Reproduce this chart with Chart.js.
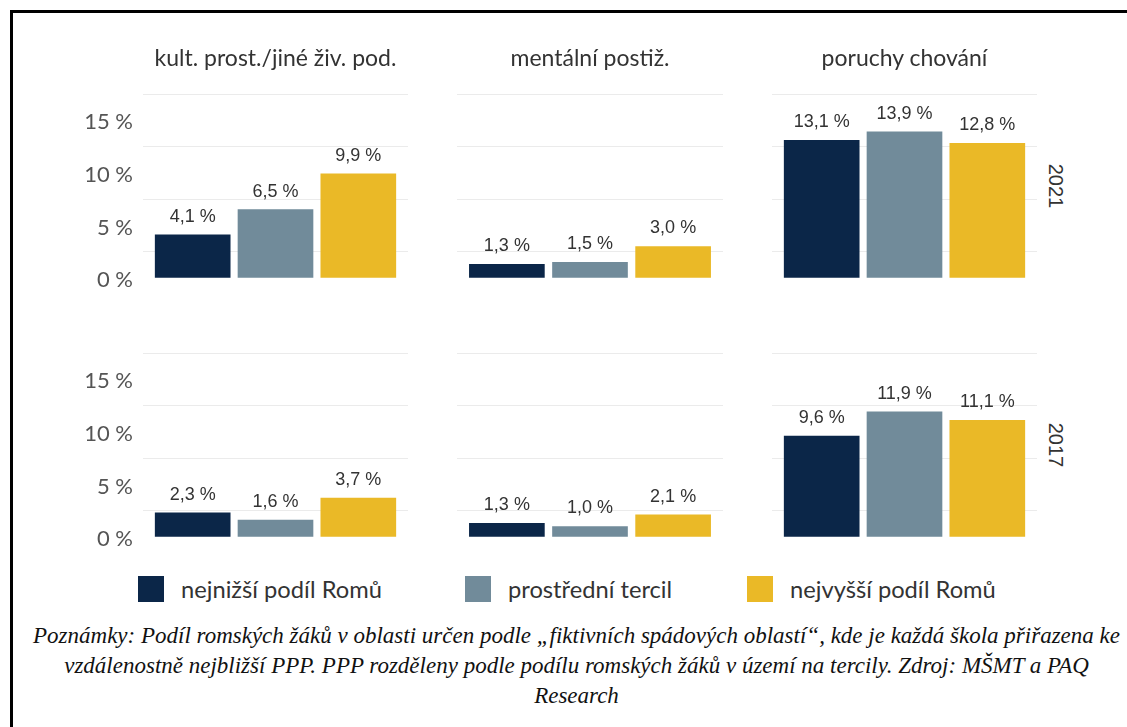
<!DOCTYPE html>
<html>
<head>
<meta charset="utf-8">
<script src="https://cdn.jsdelivr.net/npm/chart.js@4"></script>
<style>
  html, body { margin:0; padding:0; background:#fff; }
  body { width:1127px; height:727px; position:relative; overflow:hidden; }
  #frame { position:absolute; left:10px; top:10px; width:2000px; height:2000px; border-top:3px solid #000; border-left:3px solid #000; }
  canvas { position:absolute; }
  .title { position:absolute; font-family:Lato, sans-serif; font-size:23px; color:#333; text-align:center; white-space:nowrap; transform:translate(-50%,-50%); }
  .year { position:absolute; font-family:"Liberation Sans", Arial, sans-serif; font-size:20px; color:#333; white-space:nowrap; transform:translate(-50%,-50%) rotate(90deg); }
  .leg { position:absolute; font-family:Lato, sans-serif; font-size:23.7px; color:#333; white-space:nowrap; display:flex; align-items:center; }
  .leg span.sw { display:inline-block; width:26px; height:26px; margin-right:17px; }
  .cap { position:absolute; left:13px; width:1127px; text-align:center; font-family:"Liberation Serif", serif; font-style:italic; font-size:23px; color:#111; white-space:nowrap; }
</style>
</head>
<body>
<div id="frame"></div>
<script>
const categories = ['kult. prost./jiné živ. pod.', 'mentální postiž.', 'poruchy chování'];
const years = ['2021', '2017'];
const seriesNames = ['nejnižší podíl Romů', 'prostřední tercil', 'nejvyšší podíl Romů'];
const seriesColors = ['#0b2648', '#718b9a', '#eab927'];
// values per category, order: [lowest, middle, highest]
const kult2021 = [4.1, 6.5, 9.9];
const ment2021 = [1.3, 1.5, 3.0];
const poru2021 = [13.1, 13.9, 12.8];
const kult2017 = [2.3, 1.6, 3.7];
const ment2017 = [1.3, 1.0, 2.1];
const poru2017 = [9.6, 11.9, 11.1];
const yTickLabels = [0, 5, 10, 15];
const captionLines = [
  'Poznámky: Podíl romských žáků v oblasti určen podle „fiktivních spádových oblastí“, kde je každá škola přiřazena ke',
  'vzdálenostně nejbližší PPP. PPP rozděleny podle podílu romských žáků v území na tercily. Zdroj: MŠMT a PAQ',
  'Research'
];

const panelData = [[kult2021, ment2021, poru2021], [kult2017, ment2017, poru2017]];
const colLeft = [143, 457, 772];
const colWidth = [265, 266, 265];
const rowTop = [94, 353];
const plotH = 184;
const padTop = 32, padBottom = 32;
const yAxisW = 133;

const labelPlugin = {
  id: 'valLabels',
  afterDatasetsDraw(chart) {
    const ctx = chart.ctx;
    ctx.save();
    ctx.font = '18px "Liberation Sans", Arial, sans-serif';
    ctx.fillStyle = '#333';
    ctx.textAlign = 'center';
    ctx.textBaseline = 'alphabetic';
    chart.getDatasetMeta(0).data.forEach((el, i) => {
      const v = chart.data.datasets[0].data[i].y;
      ctx.fillText(v.toFixed(1).replace('.', ',') + ' %', el.x, el.y - 13);
    });
    ctx.restore();
  }
};

function addText(cls, text, x, y) {
  const d = document.createElement('div');
  d.className = cls; d.textContent = text;
  d.style.left = x + 'px'; d.style.top = y + 'px';
  document.body.appendChild(d);
  return d;
}

for (let r = 0; r < 2; r++) {
  for (let c = 0; c < 3; c++) {
    const yw = c === 0 ? yAxisW : 0;
    const cv = document.createElement('canvas');
    const w = yw + colWidth[c];
    const h = padTop + plotH + padBottom;
    cv.width = w; cv.height = h;
    cv.style.width = w + 'px'; cv.style.height = h + 'px';
    cv.style.left = (colLeft[c] - yw) + 'px';
    cv.style.top = (rowTop[r] - padTop) + 'px';
    document.body.appendChild(cv);
    const vals = panelData[r][c];
    new Chart(cv, {
      type: 'bar',
      data: {
        datasets: [{
          data: vals.map((v, i) => ({ x: i + 1, y: v })),
          backgroundColor: seriesColors,
          borderWidth: 0,
          barThickness: 75
        }]
      },
      options: {
        responsive: false,
        animation: false,
        devicePixelRatio: 1,
        layout: { padding: { top: padTop, bottom: padBottom, left: 0, right: 0 } },
        plugins: { legend: { display: false }, tooltip: { enabled: false } },
        scales: {
          x: { type: 'linear', min: 0.4, max: 3.6, offset: false, display: false },
          y: {
            min: 0, max: 17.5,
            afterFit(s) { s.width = yw; },
            border: { display: false },
            grid: {
              drawTicks: false,
              lineWidth: 1,
              color: ctx => (ctx.tick && yTickLabels.includes(ctx.tick.value)) ? 'rgba(0,0,0,0)' : '#ebebeb'
            },
            ticks: {
              display: c === 0,
              autoSkip: false,
              stepSize: 2.5,
              padding: 10,
              labelOffset: 2,
              color: '#555',
              font: { family: 'Lato, sans-serif', size: 22 },
              callback: v => yTickLabels.includes(v) ? v + ' %' : ''
            }
          }
        }
      },
      plugins: [labelPlugin]
    });
  }
}

categories.forEach((t, c) => addText('title', t, colLeft[c] + colWidth[c] / 2, 57));
years.forEach((y, r) => addText('year', y, 1055, rowTop[r] + plotH / 2));

const legX = [138, 465, 747];
seriesNames.forEach((n, i) => {
  const d = document.createElement('div');
  d.className = 'leg';
  d.style.left = legX[i] + 'px'; d.style.top = '576px'; d.style.height = '26px';
  const sw = document.createElement('span'); sw.className = 'sw'; sw.style.background = seriesColors[i];
  d.appendChild(sw);
  d.appendChild(document.createTextNode(n));
  document.body.appendChild(d);
});

captionLines.forEach((l, i) => {
  const d = document.createElement('div');
  d.className = 'cap'; d.textContent = l;
  d.style.top = (623 + i * 30) + 'px';
  document.body.appendChild(d);
});
</script>
</body>
</html>
